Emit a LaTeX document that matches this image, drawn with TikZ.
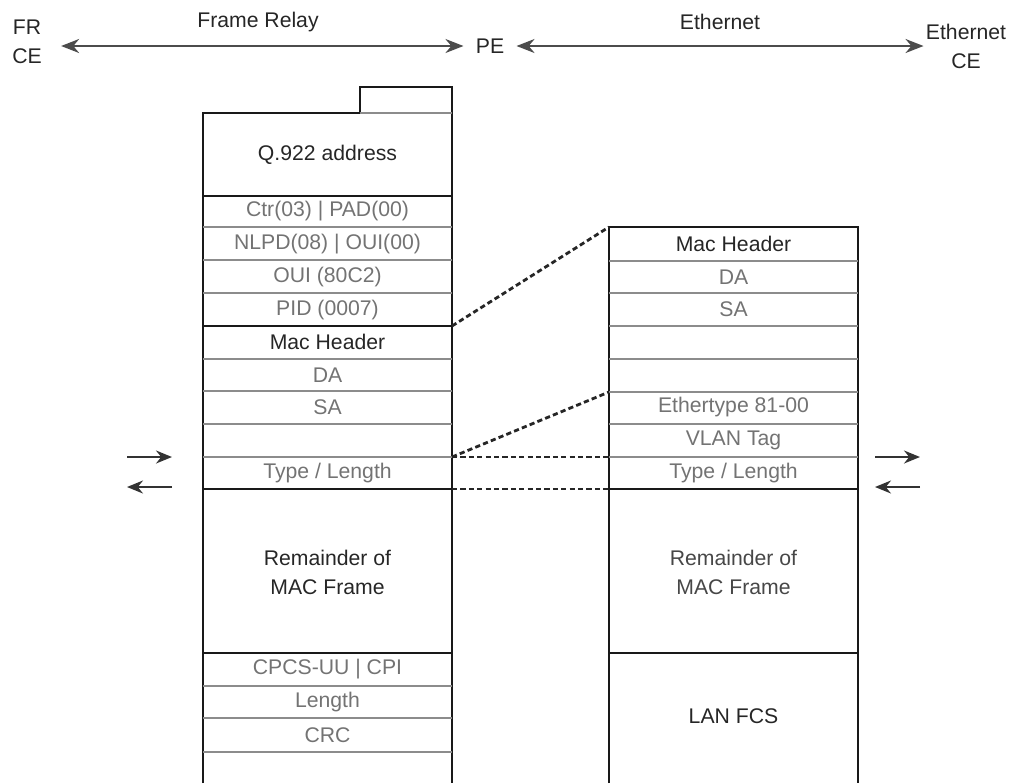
\documentclass[tikz,border=0pt]{standalone}
\usepackage{fontspec}
\setmainfont{Liberation Sans}
\usetikzlibrary{arrows.meta}

\tikzset{
  lbl/.style={font=\fontsize{10.6}{14.5}\selectfont, align=center, inner sep=2pt},
  fieldtxt/.style={lbl, text=black!55},
  headtxt/.style={lbl, text=black!85},
  sepline/.style={draw=black!45, line width=0.55pt},
  boundline/.style={draw=black!90, line width=1.2pt},
  maplink/.style={draw=black!85, line width=1.4pt, dash pattern=on 2.6pt off 1.6pt},
  dirarrow/.style={draw=black!80, line width=1pt, -{Stealth[length=8pt,width=6.5pt]}},
  spanarrow/.style={draw=black!70, line width=1.1pt, {Stealth[length=9pt,width=7pt]}-{Stealth[length=9pt,width=7pt]}}
}

\begin{document}
\begin{tikzpicture}[x=0.5pt,y=-0.5pt]

\useasboundingbox (0,0) rectangle (1018,783);

\node [headtxt] (frce) at (27,42) {FR\\CE};
\node [headtxt] (pe) at (490,46) {PE};
\node [headtxt] (ethce) at (966,46) {Ethernet\\CE};
\node [headtxt] (frlabel) at (258,22) {Frame Relay};
\node [headtxt] (ethlabel) at (720,22) {Ethernet};
\draw [spanarrow] ([xshift=7.5pt]frce.east |- pe.west) -- ([xshift=-4pt]pe.west);
\draw [spanarrow] ([xshift=4pt]pe.east) -- ([xshift=1pt]ethce.west |- pe.east);

% frame relay frame
\draw [boundline] (203,783) -- (203,113) -- (360,113) -- (360,87) -- (452,87) -- (452,783);
\draw [sepline]   (360,113) -- (452,113);
\draw [boundline] (203,196) -- (452,196);
\draw [sepline]   (203,227) -- (452,227);
\draw [sepline]   (203,260) -- (452,260);
\draw [sepline]   (203,293) -- (452,293);
\draw [boundline] (203,326) -- (452,326);
\draw [sepline]   (203,359) -- (452,359);
\draw [sepline]   (203,391) -- (452,391);
\draw [sepline]   (203,424) -- (452,424);
\draw [sepline]   (203,457) -- (452,457);
\draw [boundline] (203,489) -- (452,489);
\draw [boundline] (203,653) -- (452,653);
\draw [sepline]   (203,686) -- (452,686);
\draw [sepline]   (203,718) -- (452,718);
\draw [sepline]   (203,752) -- (452,752);

\node [headtxt]  (q922)   at (327.5,155) {Q.922 address};
\node [fieldtxt] (ctr)    at (327.5,211) {Ctr(03) | PAD(00)};
\node [fieldtxt] (nlpd)   at (327.5,244) {NLPD(08) | OUI(00)};
\node [fieldtxt] (oui)    at (327.5,277) {OUI (80C2)};
\node [fieldtxt] (pid)    at (327.5,310) {PID (0007)};
\node [headtxt]  (frmac)  at (327.5,342) {Mac Header};
\node [fieldtxt] (frda)   at (327.5,375) {DA};
\node [fieldtxt] (frsa)   at (327.5,407) {SA};
\node [fieldtxt] (frtype) at (327.5,473) {Type / Length};
\node [headtxt]  (frrest) at (327.5,572) {Remainder of\\MAC Frame};
\node [fieldtxt] (cpcs)   at (327.5,669) {CPCS-UU | CPI};
\node [fieldtxt] (frlen)  at (327.5,702) {Length};
\node [fieldtxt] (crc)    at (327.5,735) {CRC};

% ethernet frame
\draw [boundline] (609,783) -- (609,227) -- (858,227) -- (858,783);
\draw [sepline]   (609,261) -- (858,261);
\draw [sepline]   (609,293) -- (858,293);
\draw [sepline]   (609,326) -- (858,326);
\draw [sepline]   (609,359) -- (858,359);
\draw [sepline]   (609,392) -- (858,392);
\draw [sepline]   (609,424) -- (858,424);
\draw [sepline]   (609,457) -- (858,457);
\draw [boundline] (609,489) -- (858,489);
\draw [boundline] (609,653) -- (858,653);

\node [headtxt]  (ethmac)  at (733.5,244) {Mac Header};
\node [fieldtxt] (ethda)   at (733.5,277) {DA};
\node [fieldtxt] (ethsa)   at (733.5,309) {SA};
\node [fieldtxt] (ethtag)  at (733.5,407) {Ethertype 81-00};
\node [fieldtxt] (vlan)    at (733.5,440) {VLAN Tag};
\node [fieldtxt] (ethtype) at (733.5,473) {Type / Length};
\node [lbl, text=black!72] (ethrest) at (733.5,572) {Remainder of\\MAC Frame};
\node [headtxt]  (fcs)     at (733.5,716) {LAN FCS};

% mapping between the two
\coordinate (frpid)  at (452,326);
\coordinate (frgap)  at (452,457);
\coordinate (frend)  at (452,489);
\coordinate (ethtop) at (609,227);
\coordinate (ethvl)  at (609,392);
\coordinate (ethtl)  at (609,457);
\coordinate (ethend) at (609,489);
\draw [maplink] (frpid) -- (ethtop);
\draw [maplink] (frgap) -- (ethvl);
\draw [maplink] (frgap) -- (ethtl);
\draw [maplink] (frend) -- (ethend);

\coordinate (lina)  at (127,457);
\coordinate (linb)  at (172,457);
\coordinate (louta) at (172,487);
\coordinate (loutb) at (127,487);
\coordinate (rina)  at (875,457);
\coordinate (rinb)  at (920,457);
\coordinate (routa) at (920,487);
\coordinate (routb) at (875,487);
\draw [dirarrow] (lina) -- (linb);
\draw [dirarrow] (louta) -- (loutb);
\draw [dirarrow] (rina) -- (rinb);
\draw [dirarrow] (routa) -- (routb);

\end{tikzpicture}
\end{document}
